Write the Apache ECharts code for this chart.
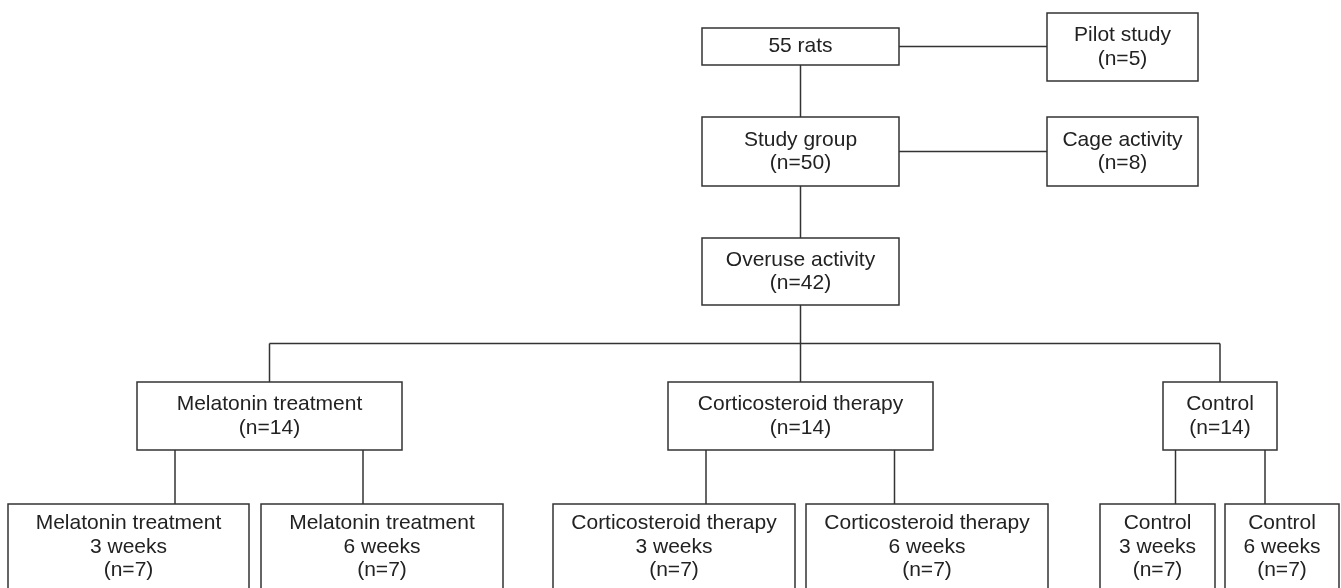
<!DOCTYPE html>
<html>
<head>
<meta charset="utf-8">
<script src="https://cdn.jsdelivr.net/npm/echarts@6/dist/echarts.min.js"></script>
<style>
html,body{margin:0;padding:0;background:#fff;}
#chart{width:1341px;height:588px;}
</style>
</head>
<body>
<div id="chart"></div>
<script>
// Node labels
const nodeLabels = [
  '55 rats',
  'Pilot study\n(n=5)',
  'Study group\n(n=50)',
  'Cage activity\n(n=8)',
  'Overuse activity\n(n=42)',
  'Melatonin treatment\n(n=14)',
  'Corticosteroid therapy\n(n=14)',
  'Control\n(n=14)',
  'Melatonin treatment\n3 weeks\n(n=7)',
  'Melatonin treatment\n6 weeks\n(n=7)',
  'Corticosteroid therapy\n3 weeks\n(n=7)',
  'Corticosteroid therapy\n6 weeks\n(n=7)',
  'Control\n3 weeks\n(n=7)',
  'Control\n6 weeks\n(n=7)'
];
// Layout of nodes in diagram units (left, right, top, bottom)
const nodeLeft   = [702, 1047, 702, 1047, 702, 137, 668, 1163,   8, 261, 553, 806, 1100, 1225];
const nodeRight  = [899, 1198, 899, 1198, 899, 402, 933, 1277, 249, 503, 795, 1048, 1215, 1339];
const nodeTop    = [ 28,   13, 117,  117, 238, 382, 382,  382, 504, 504, 504, 504,  504,  504];
const nodeBottom = [ 65,   81, 186,  186, 305, 450, 450,  450, 590, 590, 590, 590,  590,  590];

// Connections
const sideLinks = [[0, 1], [2, 3]];          // horizontal, from right edge to left edge
const chainLinks = [[0, 2], [2, 4]];         // vertical, centre of parent
const treeParent = 4;
const treeChildren = [5, 6, 7];
const treeBarY = 343.5;
const splitParents = [5, 6, 7];
const splitChildren = [[8, 9], [10, 11], [12, 13]];
const splitX = [[175, 363], [706, 894.5], [1175.5, 1265]];

const cx = i => (nodeLeft[i] + nodeRight[i]) / 2;
const cy = i => (nodeTop[i] + nodeBottom[i]) / 2;

// Build connector segments from the node layout
const segments = [];
sideLinks.forEach(([a, b]) => segments.push([nodeRight[a], cy(a), nodeLeft[b], cy(a)]));
chainLinks.forEach(([a, b]) => segments.push([cx(a), nodeBottom[a], cx(a), nodeTop[b]]));
segments.push([cx(treeParent), nodeBottom[treeParent], cx(treeParent), treeBarY]);
const childCx = treeChildren.map(cx);
segments.push([Math.min(...childCx), treeBarY, Math.max(...childCx), treeBarY]);
treeChildren.forEach(c => segments.push([cx(c), treeBarY, cx(c), nodeTop[c]]));
splitParents.forEach((p, k) => {
  splitChildren[k].forEach((c, j) => {
    segments.push([splitX[k][j], nodeBottom[p], splitX[k][j], nodeTop[c]]);
  });
});

const nodeData = nodeLabels.map((l, i) => [nodeLeft[i], nodeTop[i], nodeRight[i], nodeBottom[i], i]);

const chart = echarts.init(document.getElementById('chart'));
const lineColor = '#333333';
chart.setOption({
  backgroundColor: '#ffffff',
  animation: false,
  grid: {left: 0, right: 0, top: 0, bottom: 0},
  xAxis: {type: 'value', min: 0, max: 1341, show: false},
  yAxis: {type: 'value', min: 0, max: 588, inverse: true, show: false},
  series: [
    {
      type: 'custom',
      coordinateSystem: 'cartesian2d',
      clip: false,
      data: segments,
      renderItem: function (params, api) {
        const p0 = api.coord([api.value(0), api.value(1)]);
        const p1 = api.coord([api.value(2), api.value(3)]);
        return {
          type: 'line',
          shape: {x1: p0[0], y1: p0[1], x2: p1[0], y2: p1[1]},
          style: {stroke: lineColor, lineWidth: 1.5}
        };
      }
    },
    {
      type: 'custom',
      coordinateSystem: 'cartesian2d',
      clip: false,
      data: nodeData,
      renderItem: function (params, api) {
        const p0 = api.coord([api.value(0), api.value(1)]);
        const p1 = api.coord([api.value(2), api.value(3)]);
        const idx = api.value(4);
        return {
          type: 'group',
          children: [
            {
              type: 'rect',
              shape: {x: p0[0], y: p0[1], width: p1[0] - p0[0], height: p1[1] - p0[1]},
              style: {fill: '#ffffff', stroke: lineColor, lineWidth: 1.5}
            },
            {
              type: 'text',
              style: {
                text: nodeLabels[idx],
                x: (p0[0] + p1[0]) / 2,
                y: (p0[1] + p1[1]) / 2,
                align: 'center',
                verticalAlign: 'middle',
                fontFamily: '"Liberation Sans", Arial, sans-serif',
                fontSize: 21,
                lineHeight: 23.5,
                fill: '#222222'
              }
            }
          ]
        };
      }
    }
  ]
});
</script>
</body>
</html>
